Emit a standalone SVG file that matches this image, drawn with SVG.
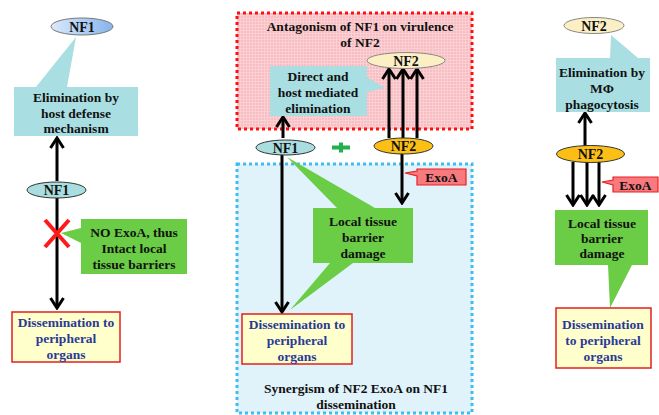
<svg xmlns="http://www.w3.org/2000/svg" width="659" height="415" viewBox="0 0 659 415">
<style>
text{font-family:"Liberation Serif","Times New Roman",serif;font-weight:bold;font-size:13.5px;text-anchor:middle;fill:#111}
.blue{fill:#2a3a96}
.lbl{font-size:14px}
.teal{fill:#a9dfe2}
.green{fill:#6acd45}
.diss{fill:#ffffcc;stroke:#e02020;stroke-width:1.5}
.exoa{fill:#f87a7e;stroke:#e82020;stroke-width:1.2}
.arr{stroke:#000;stroke-width:3;fill:none;marker-end:url(#ah)}
</style>
<defs>
<marker id="ah" viewBox="0 0 14 16" markerWidth="14" markerHeight="16" refX="12" refY="8" orient="auto" markerUnits="userSpaceOnUse">
<path d="M2,1.5 L12,8 L2,14.5" fill="none" stroke="#000" stroke-width="3"/>
</marker>
<linearGradient id="gb" x1="0" y1="0" x2="1" y2="0">
<stop offset="0" stop-color="#dbe9fb"/><stop offset="1" stop-color="#86b4ec"/>
</linearGradient>
<pattern id="pk" width="3" height="3" patternUnits="userSpaceOnUse">
<rect width="3" height="3" fill="#f8bdc2"/><path d="M0,0.5H3M0.5,0V3" stroke="#fbd0d3" stroke-width="1"/>
</pattern>
</defs>
<rect width="659" height="415" fill="#fff"/>

<g id="antagonism-box">
<rect x="237" y="13" width="235" height="116" fill="url(#pk)" stroke="#ff1010" stroke-width="3" stroke-dasharray="3 3"/>
<text x="360" y="31">Antagonism of NF1 on virulence</text>
<text x="360" y="47">of NF2</text>
</g>
<g id="synergism-box">
<rect x="237" y="164" width="235" height="249" fill="#e0f3fb" stroke="#40bdf0" stroke-width="3" stroke-dasharray="3 3"/>
<text x="356" y="393">Synergism of NF2 ExoA on NF1</text>
<text x="356" y="409">dissemination</text>
</g>

<g id="connectors">
<line class="arr" x1="57" y1="181" x2="57" y2="138"/>
<line class="arr" x1="57" y1="198" x2="57" y2="308"/>
<line class="arr" x1="283" y1="138" x2="283" y2="117"/>
<line class="arr" x1="389" y1="138" x2="389" y2="69"/>
<line class="arr" x1="403" y1="138" x2="403" y2="69"/>
<line class="arr" x1="417" y1="138" x2="417" y2="69"/>
<line class="arr" x1="282" y1="155" x2="282" y2="312"/>
<line class="arr" x1="402" y1="154" x2="402" y2="203"/>
<line class="arr" x1="585" y1="146" x2="585" y2="113"/>
<line class="arr" x1="573" y1="162" x2="573" y2="205"/>
<line class="arr" x1="587" y1="162" x2="587" y2="205"/>
<line class="arr" x1="599" y1="162" x2="599" y2="205"/>
</g>

<g id="left-nf1-top">
<ellipse cx="82" cy="26.5" rx="31" ry="8.5" fill="url(#gb)" stroke="#777" stroke-width="1"/>
<text class="lbl" x="82" y="31.5">NF1</text>
</g>
<g id="left-elimination">
<path class="teal" d="M14,87 L36,87 L76,37 L67,87 L138,87 L138,136 L14,136 Z"/>
<text x="76" y="101.5">Elimination by</text>
<text x="76" y="117.5">host defense</text>
<text x="76" y="132.5">mechanism</text>
</g>
<g id="left-nf1">
<ellipse cx="56.5" cy="190" rx="29.5" ry="8" fill="#a9dde0" stroke="#333" stroke-width="1"/>
<text class="lbl" x="56.5" y="195">NF1</text>
</g>
<g id="left-x">
<path d="M45,220 L69,247 M69,220 L45,247" stroke="#ff1a1a" stroke-width="4" fill="none"/>
</g>
<g id="left-no-exoa">
<path class="green" d="M81,219 L187,219 L187,274 L81,274 L81,243 L61,233 L81,228 Z"/>
<text x="134" y="236.5">NO ExoA, thus</text>
<text x="134" y="252.5">Intact local</text>
<text x="134" y="268.5">tissue barriers</text>
</g>
<g id="left-dissemination">
<rect class="diss" x="12" y="312" width="108" height="50"/>
<text class="blue" x="66" y="326.5">Dissemination to</text>
<text class="blue" x="66" y="342.5">peripheral</text>
<text class="blue" x="66" y="358.5">organs</text>
</g>

<g id="mid-direct">
<path class="teal" d="M270,66 L367,66 L367,77 L385,88 L367,92 L367,116 L270,116 Z"/>
<text x="318" y="80.5">Direct and</text>
<text x="318" y="96.5">host mediated</text>
<text x="318" y="112.5">elimination</text>
</g>
<g id="mid-nf2-top">
<ellipse cx="406" cy="60.5" rx="39" ry="8" fill="#fcefc4" stroke="#888" stroke-width="1"/>
<text class="lbl" x="406" y="65.5">NF2</text>
</g>
<g id="mid-damage">
<path class="green" d="M313,208 L337,208 L287,157 L375,208 L413,208 L413,263 L353,263 L290,310 L330,263 L313,263 Z"/>
<text x="363" y="225.5">Local tissue</text>
<text x="363" y="241.5">barrier</text>
<text x="363" y="257.5">damage</text>
</g>
<g id="mid-nf1">
<ellipse cx="285.5" cy="147.5" rx="29.5" ry="7.5" fill="#a9dde0" stroke="#333" stroke-width="1"/>
<text class="lbl" x="285.5" y="152.5">NF1</text>
</g>
<g id="mid-plus">
<path d="M332,145.5 H350 V149.5 H332 Z M339,142.5 H343 V152.5 H339 Z" fill="#22b14c"/>
</g>
<g id="mid-nf2">
<ellipse cx="403.5" cy="146" rx="29.5" ry="8" fill="#fbbf16" stroke="#333" stroke-width="1"/>
<text class="lbl" x="403.5" y="151">NF2</text>
</g>
<g id="mid-exoa">
<path class="exoa" d="M417,169 L466,169 L466,185 L417,185 L417,176 L405,173 L417,171 Z"/>
<text x="441.5" y="182">ExoA</text>
</g>
<g id="mid-dissemination">
<rect class="diss" x="242" y="314" width="110" height="50"/>
<text class="blue" x="297" y="328.5">Dissemination to</text>
<text class="blue" x="297" y="344.5">peripheral</text>
<text class="blue" x="297" y="360.5">organs</text>
</g>

<g id="right-nf2-top">
<ellipse cx="594" cy="25.5" rx="30" ry="8" fill="#fcefc4" stroke="#888" stroke-width="1"/>
<text class="lbl" x="594" y="30.5">NF2</text>
</g>
<g id="right-elimination">
<path class="teal" d="M556,58 L610,58 L611,35 L638,58 L650,58 L650,112 L556,112 Z"/>
<text x="602" y="76.5">Elimination by</text>
<text x="602" y="92.5">MΦ</text>
<text x="602" y="108.5">phagocytosis</text>
</g>
<g id="right-nf2">
<ellipse cx="590.5" cy="154" rx="34" ry="8.5" fill="#fbbf16" stroke="#333" stroke-width="1"/>
<text class="lbl" x="590.5" y="159">NF2</text>
</g>
<g id="right-exoa">
<path class="exoa" d="M613,177 L658,177 L658,192 L613,192 L613,185 L602,182 L613,180 Z"/>
<text x="635.5" y="189.5">ExoA</text>
</g>
<g id="right-damage">
<path class="green" d="M555,210 L648,210 L648,265 L632,265 L610,308 L608,265 L555,265 Z"/>
<text x="602" y="227.5">Local tissue</text>
<text x="602" y="242.5">barrier</text>
<text x="602" y="257.5">damage</text>
</g>
<g id="right-dissemination">
<rect class="diss" x="556" y="308" width="95" height="60"/>
<text class="blue" x="603" y="328.5">Dissemination</text>
<text class="blue" x="603" y="344.5">to peripheral</text>
<text class="blue" x="603" y="360.5">organs</text>
</g>
</svg>
